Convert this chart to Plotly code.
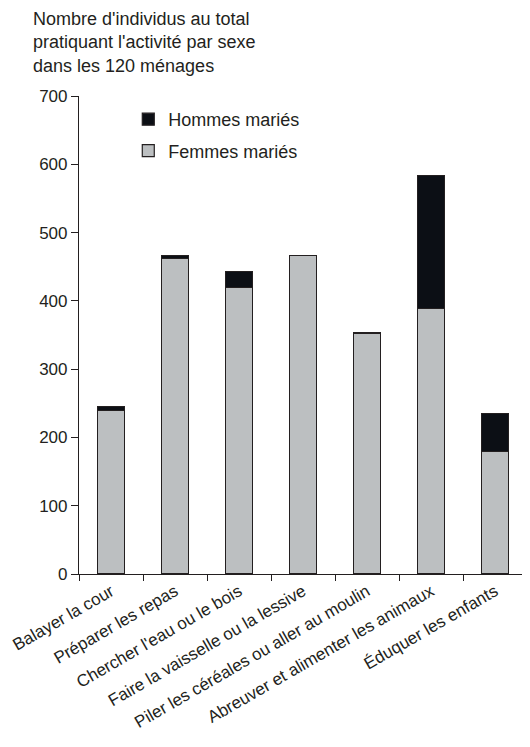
import plotly.graph_objects as go

categories = [
    "Balayer la cour",
    "Préparer les repas",
    "Chercher l'eau ou le bois",
    "Faire la vaisselle ou la lessive",
    "Piler les céréales ou aller au moulin",
    "Abreuver et alimenter les animaux",
    "Éduquer les enfants",
]
femmes = [240, 462, 420, 467, 353, 389, 179]
hommes = [5, 4, 23, 0, 0, 195, 56]
y_ticks = [0, 100, 200, 300, 400, 500, 600, 700]

FONT = "Liberation Sans, Arial, Helvetica, sans-serif"
TXT = "#231f20"

fig = go.Figure()
fig.add_trace(go.Bar(
    x=categories, y=femmes, name="Femmes mariés",
    marker=dict(color="#bcbfc1", line=dict(color=TXT, width=1.2)),
    width=0.41, legendgroup="f", legendrank=2,
))
fig.add_trace(go.Bar(
    x=categories, y=hommes, name="Hommes mariés",
    marker=dict(color="#0c0f15", line=dict(color=TXT, width=1.2)),
    width=0.41, legendgroup="h", legendrank=1,
))

fig.update_layout(
    width=522, height=739,
    margin=dict(l=71, r=3, t=88, b=173),
    barmode="stack",
    plot_bgcolor="white", paper_bgcolor="white",
    font=dict(family=FONT, size=17, color=TXT),
    showlegend=True,
    legend=dict(
        x=0.11, y=0.9895, xanchor="left", yanchor="top",
        traceorder="grouped", tracegroupgap=5,
        bgcolor="rgba(0,0,0,0)", font=dict(size=18, color=TXT),
    ),
    xaxis=dict(
        type="category", showline=True, linecolor=TXT, linewidth=1.2,
        ticks="outside", tickson="boundaries", ticklen=6, tickcolor=TXT,
        tickangle=-30, showgrid=False, zeroline=False,
        tickfont=dict(size=17, color=TXT),
    ),
    yaxis=dict(
        range=[0, 700], tickvals=y_ticks, showline=True, linecolor=TXT,
        linewidth=1.2, ticks="outside", ticklen=7, tickcolor=TXT,
        showgrid=False, zeroline=False, tickfont=dict(size=17, color=TXT),
    ),
    annotations=[dict(
        text="Nombre d'individus au total<br>pratiquant l'activité par sexe<br>dans les 120 ménages",
        xref="paper", yref="paper", x=-0.107, y=1.186, xanchor="left", yanchor="top",
        align="left", showarrow=False, font=dict(size=18, color=TXT),
    )],
)

fig.write_html("out.html")
